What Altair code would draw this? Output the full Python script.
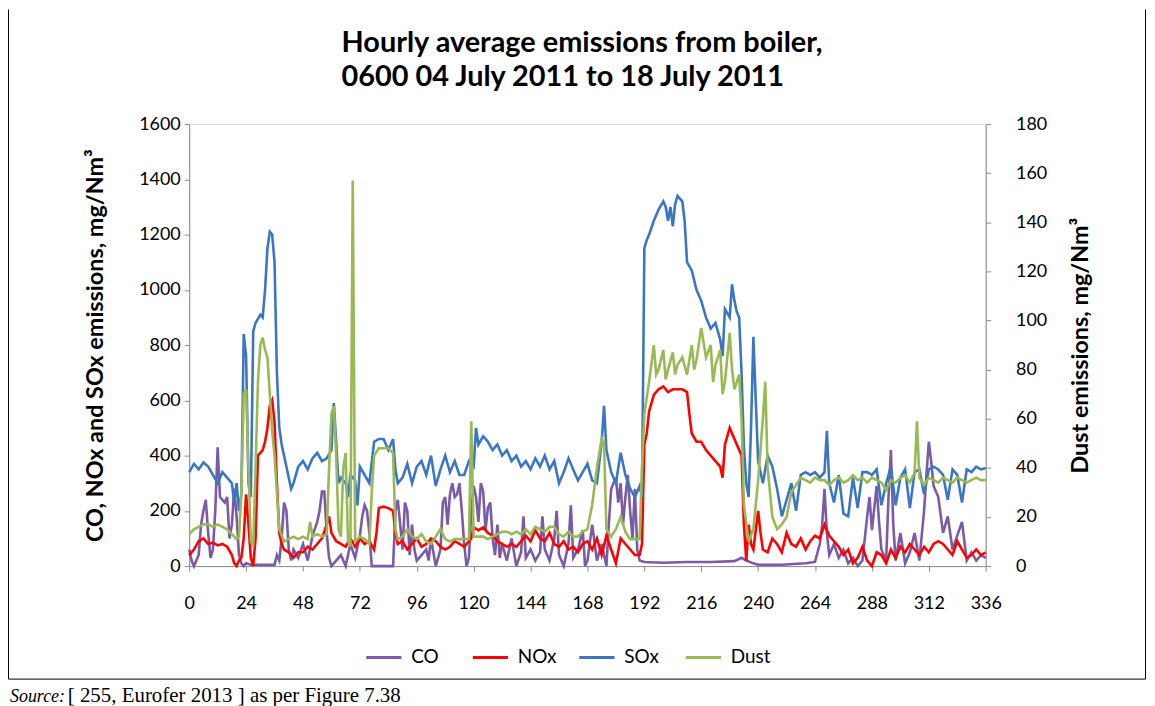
import altair as alt
import pandas as pd

# ---------------- data ----------------
co_hours = [0, 1, 2, 4, 5, 6, 7, 8, 9, 10, 11, 12, 13, 14, 15, 16, 17, 18, 19, 20, 21, 22, 23, 24, 26, 28, 30, 32, 34, 36,
            37, 38, 39, 40, 41, 42, 43, 44, 46, 48, 50, 52, 54, 55, 56, 57, 58, 59, 60, 62, 64, 66, 68, 70, 72, 73, 74,
            75, 76, 77, 78, 80, 82, 84, 86, 87, 88, 89, 90, 91, 92, 93, 94, 95, 96, 98, 100, 101, 102, 103, 104, 106,
            107, 108, 109, 110, 111, 112, 113, 114, 115, 116, 117, 118, 119, 120, 121, 122, 123, 124, 125, 126, 127,
            128, 129, 130, 131, 132, 134, 136, 138, 140, 141, 142, 144, 146, 148, 149, 150, 152, 154, 155, 156, 158,
            160, 161, 162, 164, 166, 167, 168, 170, 172, 174, 176, 177, 178, 179, 180, 181, 182, 183, 184, 185, 186,
            187, 188, 189, 190, 192, 200, 210, 220, 230, 233, 235, 238, 240, 250, 260, 264, 266, 267, 268, 269, 270,
            272, 274, 276, 278, 280, 282, 284, 286, 287, 288, 290, 291, 292, 294, 295, 296, 297, 298, 300, 302, 304,
            306, 308, 310, 311, 312, 313, 314, 316, 318, 320, 322, 324, 326, 328, 330, 332, 334, 336]
co_values = [60, 20, 0, 40, 150, 200, 240, 120, 30, 60, 200, 430, 250, 240, 230, 250, 100, 150, 280, 180, 40, 10, 0, 10, 5, 5, 5, 5, 5, 5,
             40, 20, 100, 230, 200, 60, 20, 60, 30, 80, 20, 110, 160, 200, 270, 270, 120, 30, 0, 20, 40, 0, 80, 30, 110, 180, 220,
             200, 120, 0, 0, 0, 0, 0, 0, 200, 240, 150, 60, 230, 200, 40, 150, 60, 20, 40, 60, 20, 100, 50, 0, 60,
             230, 250, 150, 260, 300, 250, 260, 300, 200, 80, 0, 30, 200, 290, 250, 160, 300, 270, 130, 210, 230,
             100, 40, 150, 30, 80, 20, 100, 0, 50, 180, 30, 60, 20, 50, 180, 60, 20, 100, 200, 40, 0,
             80, 220, 30, 60, 130, 0, 20, 150, 20, 80, 0, 150, 280, 300, 320, 230, 300, 150, 250, 330, 200,
             100, 280, 60, 20, 15, 12, 15, 15, 18, 30, 20, 10, 5, 5, 10, 15, 80, 150, 280, 120, 40,
             80, 30, 60, 10, 30, 0, 20, 180, 250, 130, 290, 160, 60, 20, 250, 420, 150, 20, 120, 10, 50,
             120, 20, 200, 330, 450, 380, 290, 250, 120, 180, 60, 110, 160, 20, 50, 20, 40, 30]

nox_hours = [0, 2, 4, 6, 8, 10, 12, 14, 16, 18, 19, 20, 21, 22, 23, 24, 25, 26, 27, 28, 29, 30, 31, 32, 33, 34, 35, 36, 37,
             38, 39, 40, 42, 44, 46, 48, 50, 52, 54, 56, 58, 59, 60, 62, 64, 66, 68, 70, 72, 74, 76, 78, 79, 80, 82, 84,
             86, 87, 88, 90, 92, 94, 96, 98, 100, 102, 104, 106, 108, 110, 112, 114, 116, 118, 119, 120, 122, 124, 126,
             128, 130, 132, 134, 136, 138, 140, 142, 144, 146, 148, 150, 152, 154, 156, 158, 160, 162, 164, 166, 168,
             170, 172, 174, 176, 178, 180, 182, 184, 186, 188, 190, 191, 192, 193, 194, 196, 198, 200, 202, 204, 206,
             208, 210, 211, 212, 214, 216, 218, 220, 222, 224, 225, 226, 228, 229, 230, 232, 233, 234, 235, 236, 237,
             238, 240, 241, 242, 244, 246, 248, 250, 252, 254, 256, 258, 260, 262, 264, 266, 268, 270, 272, 274, 276,
             278, 280, 282, 284, 286, 288, 290, 292, 294, 296, 298, 300, 302, 304, 306, 308, 310, 312, 314, 316, 318,
             320, 322, 324, 326, 328, 330, 332, 334, 336]
nox_values = [40, 60, 90, 100, 80, 85, 75, 80, 70, 40, 10, 0, 20, 30, 100, 260, 150, 30, 0, 100, 400, 410, 420, 450, 500, 580, 600, 520, 300,
              120, 80, 60, 50, 30, 50, 50, 70, 60, 80, 100, 150, 180, 120, 90, 80, 70, 100, 70, 100, 80, 90, 60, 120, 210, 215, 210,
              200, 120, 80, 90, 60, 80, 100, 70, 80, 100, 90, 70, 60, 70, 90, 80, 70, 90, 100, 140, 130, 140, 120,
              110, 90, 80, 70, 80, 70, 90, 110, 90, 130, 100, 90, 120, 80, 70, 90, 60, 70, 50, 80, 90,
              60, 100, 40, 110, 60, 10, 100, 80, 60, 40, 40, 80, 440, 480, 560, 620, 640, 650, 630, 640, 640,
              640, 630, 550, 480, 450, 450, 420, 400, 380, 360, 320, 440, 500, 480, 460, 420, 400, 150, 20, 150, 80,
              60, 200, 120, 60, 50, 100, 80, 50, 120, 80, 70, 100, 60, 90, 110, 100, 150, 110, 90, 70, 40,
              60, 10, 30, 70, 20, 0, 50, 40, 10, 60, 30, 70, 50, 80, 60, 40, 70, 50, 80, 90, 80,
              60, 40, 90, 60, 30, 40, 60, 40, 50]

sox_hours = [0, 2, 4, 6, 8, 10, 12, 14, 16, 18, 19, 20, 21, 22, 23, 24, 25, 26, 27, 28, 30, 31, 32, 33, 34, 35, 36, 37, 38,
             39, 40, 42, 43, 44, 46, 48, 50, 52, 54, 56, 58, 60, 61, 62, 63, 64, 66, 67, 68, 70, 71, 72, 74, 76, 78, 80,
             82, 84, 86, 87, 88, 90, 92, 94, 96, 98, 100, 102, 104, 106, 108, 110, 112, 114, 116, 118, 120, 121, 122,
             124, 126, 128, 130, 132, 134, 136, 138, 140, 142, 144, 146, 148, 150, 152, 154, 156, 158, 160, 162, 164,
             166, 168, 170, 172, 174, 175, 176, 178, 180, 182, 184, 186, 188, 190, 191, 192, 193, 194, 196, 198, 200,
             201, 202, 203, 204, 205, 206, 207, 208, 209, 210, 212, 214, 216, 218, 220, 222, 224, 225, 226, 228, 229,
             230, 231, 232, 233, 234, 235, 236, 237, 238, 239, 240, 242, 244, 246, 248, 250, 252, 254, 256, 258, 260,
             262, 264, 266, 268, 269, 270, 272, 274, 276, 278, 280, 282, 284, 286, 288, 290, 292, 294, 296, 298, 300,
             302, 304, 306, 308, 310, 312, 314, 316, 318, 320, 322, 324, 326, 328, 330, 332, 334, 336]
sox_values = [340, 370, 350, 375, 360, 330, 300, 340, 320, 300, 230, 300, 200, 260, 840, 760, 300, 250, 850, 880, 910, 900, 1000, 1150, 1210, 1200, 1100, 700, 500,
              440, 400, 320, 280, 300, 360, 380, 350, 390, 410, 380, 390, 420, 590, 450, 300, 320, 300, 250, 330, 310, 220, 360, 330, 300, 450, 460,
              460, 420, 460, 350, 300, 320, 370, 300, 360, 380, 330, 400, 290, 350, 400, 340, 380, 330, 330, 380, 360, 500, 440,
              470, 450, 420, 440, 400, 420, 380, 400, 360, 380, 350, 390, 360, 400, 350, 380, 300, 340, 390, 350, 310,
              340, 370, 310, 300, 450, 580, 420, 340, 300, 410, 330, 280, 250, 290, 250, 1150, 1180, 1200, 1250, 1290, 1320,
              1300, 1250, 1300, 1230, 1310, 1340, 1330, 1320, 1250, 1100, 1070, 1000, 960, 900, 860, 880, 820, 760, 930, 900, 1020,
              960, 920, 900, 700, 430, 300, 250, 500, 830, 600, 380, 300, 400, 360, 280, 180, 240, 300, 200, 330, 340,
              330, 340, 320, 340, 490, 300, 230, 330, 190, 180, 320, 210, 340, 340, 330, 350, 220, 300, 360, 220, 320,
              350, 210, 340, 350, 260, 350, 360, 350, 330, 240, 350, 330, 230, 350, 340, 360, 350, 355]

dust_hours = [0, 2, 4, 6, 8, 10, 12, 14, 16, 18, 20, 21, 22, 23, 24, 25, 26, 27, 28, 29, 30, 31, 32, 33, 34, 35, 36, 37, 38,
              40, 42, 44, 46, 48, 50, 51, 52, 54, 56, 58, 59, 60, 61, 62, 63, 64, 65, 66, 67, 68, 69, 70, 72, 74, 76, 77,
              78, 80, 82, 84, 86, 87, 88, 90, 92, 94, 96, 98, 100, 102, 104, 106, 108, 110, 112, 114, 116, 118, 119, 120,
              122, 124, 126, 128, 130, 132, 134, 136, 138, 140, 142, 144, 146, 148, 150, 152, 154, 156, 158, 160, 162,
              164, 166, 168, 170, 172, 174, 175, 176, 178, 180, 182, 184, 186, 188, 190, 191, 192, 194, 196, 197, 198,
              200, 201, 202, 204, 205, 206, 208, 210, 212, 213, 214, 216, 218, 220, 221, 222, 224, 225, 226, 228, 229,
              230, 232, 233, 234, 236, 238, 240, 242, 243, 244, 246, 248, 250, 252, 254, 256, 258, 260, 262, 264, 266,
              268, 270, 272, 274, 276, 278, 280, 282, 284, 286, 288, 290, 292, 294, 296, 298, 300, 302, 304, 306, 307,
              308, 310, 312, 314, 316, 318, 320, 322, 324, 326, 328, 330, 332, 334, 336]
dust_values = [13, 15, 16, 17, 17, 16, 17, 16, 15, 13, 11, 12, 30, 70, 72, 40, 10, 8, 40, 75, 90, 93, 88, 85, 70, 55, 45, 30, 15,
               10, 11, 12, 11, 12, 11, 18, 12, 13, 12, 13, 40, 62, 65, 45, 15, 12, 40, 46, 10, 8, 157, 10, 12, 11, 9, 30,
               45, 48, 48, 48, 46, 15, 11, 12, 15, 12, 11, 13, 10, 9, 12, 15, 11, 10, 11, 11, 11, 11, 59, 12,
               12, 12, 11, 12, 13, 14, 14, 13, 14, 13, 15, 13, 16, 15, 14, 16, 16, 13, 12, 14, 12,
               12, 14, 15, 25, 40, 52, 50, 15, 12, 15, 20, 14, 11, 11, 11, 40, 62, 75, 90, 78, 80,
               88, 76, 80, 87, 78, 82, 85, 78, 90, 80, 84, 97, 85, 90, 75, 82, 88, 70, 75, 95, 80,
               72, 78, 60, 25, 10, 15, 35, 60, 75, 40, 20, 15, 17, 20, 30, 33, 36, 35, 34, 36, 35,
               35, 33, 35, 36, 34, 35, 37, 35, 36, 34, 36, 35, 34, 31, 35, 34, 36, 37, 34, 38, 59,
               36, 33, 36, 35, 34, 36, 35, 34, 36, 35, 34, 35, 36, 35, 35]

series_names = ["CO", "NOx", "SOx", "Dust"]
series_colors = ["#7B5AA6", "#FF0000", "#3C76C2", "#98B954"]

x_ticks = [0, 24, 48, 72, 96, 120, 144, 168, 192, 216, 240, 264, 288, 312, 336]
left_ticks = [0, 200, 400, 600, 800, 1000, 1200, 1400, 1600]
right_ticks = [0, 20, 40, 60, 80, 100, 120, 140, 160, 180]

title_lines = ["Hourly average emissions from boiler,", "0600 04 July 2011 to 18 July 2011"]
left_title = "CO, NOx and SOx emissions, mg/Nm³"
right_title = "Dust emissions, mg/Nm³"
source_label = "Source:"
source_rest = "[ 255, Eurofer 2013 ] as per Figure 7.38"

# ---------------- tables ----------------
def table(hours, values, name):
    return pd.DataFrame({"hour": hours, "value": values, "series": name})

left_df = pd.concat([
    table(co_hours, co_values, "CO"),
    table(nox_hours, nox_values, "NOx"),
    table(sox_hours, sox_values, "SOx"),
], ignore_index=True)
dust_df = table(dust_hours, dust_values, "Dust")

FONT = "Lato"
GRAY = "#8A8A8A"
LABEL_SIZE = 18
TITLE_SIZE = 23.5

color = alt.Color(
    "series:N",
    scale=alt.Scale(domain=series_names, range=series_colors),
    legend=alt.Legend(
        title=None, orient="none", legendX=176, legendY=516, direction="horizontal",
        symbolType="stroke", symbolSize=1250, symbolStrokeWidth=3,
        labelFont=FONT, labelFontSize=19, labelColor="#000000", labelOffset=8,
        columnPadding=15, gridAlign="all",
    ),
)

x_enc = alt.X(
    "hour:Q",
    scale=alt.Scale(domain=[0, 336], nice=False, zero=False),
    axis=alt.Axis(values=x_ticks, title=None, labelFont=FONT, labelFontSize=LABEL_SIZE, labelColor="#000000",
                  tickSize=5, labelPadding=24, domainColor=GRAY, tickColor=GRAY, grid=False,
                  labelFlush=False),
)

left = alt.Chart(left_df).mark_line(strokeWidth=2.6).encode(
    x=x_enc,
    y=alt.Y("value:Q", scale=alt.Scale(domain=[0, 1600], nice=False),
            axis=alt.Axis(values=left_ticks, format="d", title=left_title, orient="left",
                          labelFont=FONT, labelFontSize=LABEL_SIZE, labelColor="#000000",
                          titleFont=FONT, titleFontSize=TITLE_SIZE, titleFontWeight="bold", titleColor="#000000",
                          tickSize=5, labelPadding=4, titlePadding=31,
                          domainColor=GRAY, tickColor=GRAY, grid=False)),
    color=color,
)

right = alt.Chart(dust_df).mark_line(strokeWidth=2.6).encode(
    x=x_enc,
    y=alt.Y("value:Q", scale=alt.Scale(domain=[0, 180], nice=False),
            axis=alt.Axis(values=right_ticks, format="d", title=right_title, orient="right", titleAngle=270,
                          labelFont=FONT, labelFontSize=LABEL_SIZE, labelColor="#000000",
                          titleFont=FONT, titleFontSize=TITLE_SIZE, titleFontWeight="bold", titleColor="#000000",
                          tickSize=5, labelPadding=25, titlePadding=46,
                          domainColor=GRAY, tickColor=GRAY, grid=False)),
    color=color,
)

one = pd.DataFrame({"k": [0]})
frame_left = alt.Chart(one).mark_rule(color="#000000", strokeWidth=1).encode(
    x=alt.value(-181.5), y=alt.value(-115), y2=alt.value(557.5))
frame_right = alt.Chart(one).mark_rule(color="#000000", strokeWidth=1).encode(
    x=alt.value(960.5), y=alt.value(-115), y2=alt.value(557.5))
frame_bottom = alt.Chart(one).mark_rule(color="#000000", strokeWidth=1).encode(
    x=alt.value(-181.5), x2=alt.value(960.5), y=alt.value(557.5))

title1 = alt.Chart(one).mark_text(align="left", baseline="alphabetic", font=FONT, fontSize=29,
                                  fontWeight="bold", color="#000000").encode(
    x=alt.value(153), y=alt.value(-72), text=alt.value(title_lines[0]))
title2 = alt.Chart(one).mark_text(align="left", baseline="alphabetic", font=FONT, fontSize=29,
                                  fontWeight="bold", color="#000000").encode(
    x=alt.value(153), y=alt.value(-38), text=alt.value(title_lines[1]))

src1 = alt.Chart(one).mark_text(align="left", baseline="alphabetic", font="Liberation Serif",
                                fontSize=18, fontStyle="italic", color="#000000").encode(
    x=alt.value(-180), y=alt.value(581), text=alt.value(source_label))
src2 = alt.Chart(one).mark_text(align="left", baseline="alphabetic", font="Liberation Serif",
                                fontSize=21, color="#000000").encode(
    x=alt.value(-122), y=alt.value(581), text=alt.value(source_rest))

chart = alt.layer(
    left, right, frame_left, frame_right, frame_bottom, title1, title2, src1, src2
).resolve_scale(
    y="independent"
).properties(
    width=800, height=444,
    autosize=alt.AutoSizeParams(type="none"),
    padding={"left": 182, "top": 115, "right": 162, "bottom": 145},
).configure_view(stroke=GRAY, strokeWidth=1).configure(background="#FFFFFF")

chart.save("out.html", embed_options={"renderer": "svg", "actions": False})
